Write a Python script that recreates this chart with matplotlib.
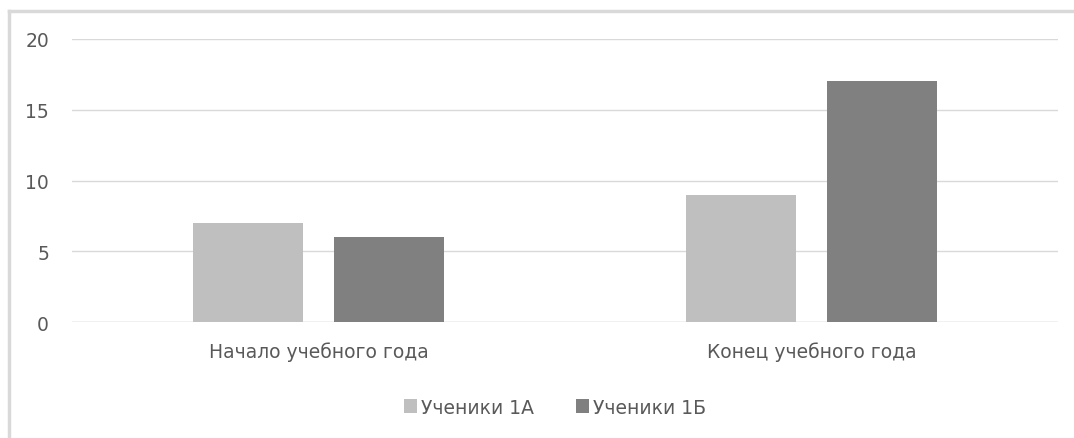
import numpy as np
import matplotlib
matplotlib.use('Agg')
import matplotlib.pyplot as plt
from matplotlib.lines import Line2D

categories = ['Начало учебного года', 'Конец учебного года']
series_names = ['Ученики 1А', 'Ученики 1Б']
values_1a = [7, 9]
values_1b = [6, 17]
yticks = [0, 5, 10, 15, 20]

plt.rcParams['font.family'] = ['DejaVu Sans']
text_color = '#595959'

fig = plt.figure(figsize=(10.74, 4.39), dpi=100)
ax = fig.add_axes([0.067, 0.264, 0.918, 0.645])

x = np.arange(len(categories))
w = 0.223
off = 0.143
ax.bar(x - off, values_1a, w, color='#bfbfbf', label=series_names[0], zorder=3)
ax.bar(x + off, values_1b, w, color='#808080', label=series_names[1], zorder=3)

ax.set_xlim(-0.5, 1.5)
ax.set_ylim(0, 20)
ax.set_yticks(yticks)
ax.set_xticks(x)
ax.set_xticklabels(categories)
ax.grid(axis='y', color='#d9d9d9', linewidth=1, zorder=0)
for s in ax.spines.values():
    s.set_visible(False)
ax.tick_params(axis='both', length=0, labelsize=13.5, labelcolor=text_color)
ax.tick_params(axis='y', pad=16.5)
ax.tick_params(axis='x', pad=14)
ax.axhline(0, color='#d9d9d9', linewidth=1, zorder=1)

ax.legend(loc='center', bbox_to_anchor=(0.49, -0.30), ncol=2, frameon=False,
          fontsize=13.5, labelcolor=text_color, handlelength=0.7, handleheight=0.7,
          handletextpad=0.25, columnspacing=2.2)

# chart border (only left and top edges visible)
fig.add_artist(Line2D([0.0085, 0.0085], [0, 0.9735], transform=fig.transFigure,
                      color='#d9d9d9', linewidth=2.5))
fig.add_artist(Line2D([0.0085, 1.0], [0.9735, 0.9735], transform=fig.transFigure,
                      color='#d9d9d9', linewidth=2.5))

fig.savefig('out.png', dpi=100)
